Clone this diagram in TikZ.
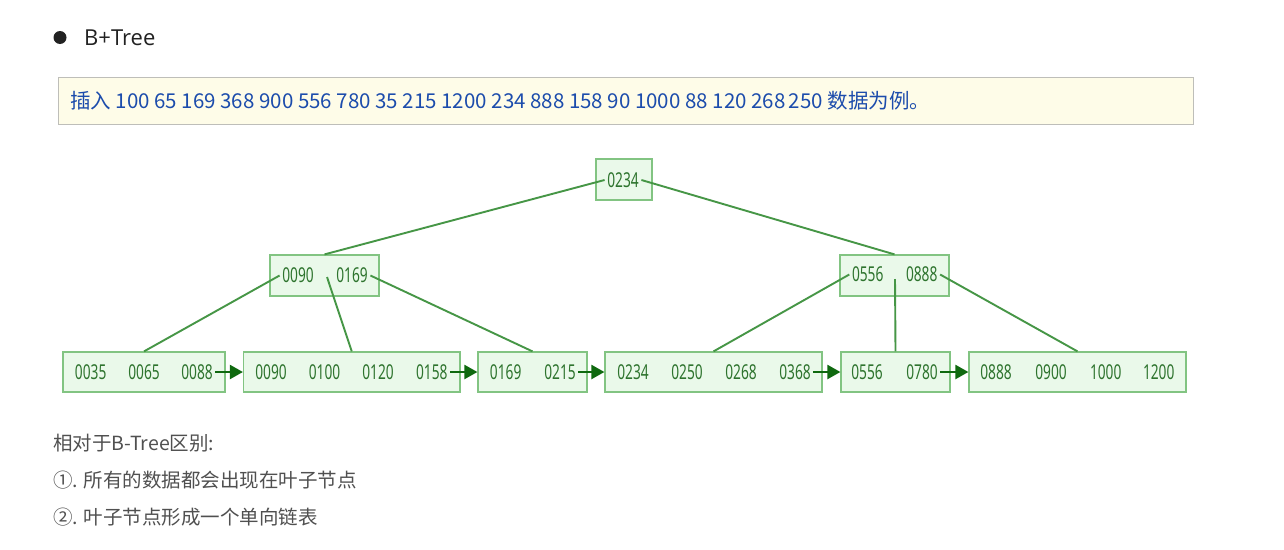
\documentclass[tikz,border=0pt]{standalone}
\usepackage{fontspec}
\setmainfont{Noto Sans CJK SC}
\newfontfamily\titlefont{Open Sans}
\newfontfamily\cjkfont{Noto Sans CJK SC}
\newfontfamily\numfont[FakeStretch=0.67]{Noto Sans}
\usetikzlibrary{arrows.meta}
\definecolor{boxc}{RGB}{130,196,130}
\definecolor{boxfill}{RGB}{234,249,234}
\definecolor{numc}{RGB}{46,116,46}
\definecolor{linec}{RGB}{70,150,70}
\definecolor{arrc}{RGB}{15,105,15}
\definecolor{notefill}{RGB}{254,252,232}
\definecolor{notedraw}{RGB}{190,190,185}
\definecolor{notetext}{RGB}{28,76,172}
\definecolor{titlec}{RGB}{34,34,34}
\definecolor{graytext}{RGB}{80,80,80}
\begin{document}
\begin{tikzpicture}[x=1pt,y=-1pt,
  box/.style={draw=boxc, fill=boxfill, line width=1.2pt, inner sep=0pt},
  num/.style={font=\numfont\fontsize{20.5}{20.5}\selectfont, text=numc, inner sep=2.5pt},
  link/.style={draw=linec, line width=1.9pt},
  nextarrow/.style={draw=arrc, line width=2.2pt, -{Triangle[length=13pt,width=14pt]}},
  remark/.style={anchor=west, inner sep=0pt, font=\cjkfont\fontsize{19.5}{19.5}\selectfont, text=graytext}]
\useasboundingbox (0,0) rectangle (1284,549);
\fill[white] (0,0) rectangle (1284,549);

% heading
\node[circle, fill=titlec, minimum size=13pt, inner sep=0pt] (bullet) at (60,37.5) {};
\node[anchor=west, inner sep=0pt, font=\titlefont\fontsize{22}{22}\selectfont, text=titlec] (title) at (84,38) {B+Tree};

% note box
\node[draw=notedraw, fill=notefill, line width=1pt, minimum width=1135pt, minimum height=47pt, anchor=north west, inner sep=0pt] (note) at (58,77) {};
\node[anchor=west, inner sep=0pt, font=\cjkfont\fontsize{20.5}{20.5}\selectfont, text=notetext] (notetext) at (70,101) {插入 100 65 169 368 900 556 780 35 215 1200 234 888 158 90 1000 88 120 268\,250 数据为例。};

% boxes
\node[box, minimum width=56pt, minimum height=41pt] (R) at (624,179.5) {};
\node[box, minimum width=109pt, minimum height=41pt] (LI) at (324.5,275.5) {};
\node[box, minimum width=109pt, minimum height=41pt] (RI) at (894.5,275.5) {};
\node[box, minimum width=162pt, minimum height=40pt] (L1) at (144,372) {};
\node[box, minimum width=216.5pt, minimum height=40pt] (L2) at (351.75,372) {};
\node[box, minimum width=109pt, minimum height=40pt] (L3) at (532.5,372) {};
\node[box, minimum width=217pt, minimum height=40pt] (L4) at (713.5,372) {};
\node[box, minimum width=109pt, minimum height=40pt] (L5) at (895.5,372) {};
\node[box, minimum width=217pt, minimum height=40pt] (L6) at (1077.5,372) {};

% texts
\node[num] (r) at (623,180) {0234};
\node[num] (p1) at (298,275.5) {0090};
\node[num] (p2) at (352,275.5) {0169};
\node[num] (q1) at (867.7,274.5) {0556};
\node[num] (q2) at (921.7,274.5) {0888};
\node[num] (a1) at (90.7,372) {0035};
\node[num] (a2) at (144,372) {0065};
\node[num] (a3) at (197,372) {0088};
\node[num] (b1) at (271,372) {0090};
\node[num] (b2) at (324.6,372) {0100};
\node[num] (b3) at (378,372) {0120};
\node[num] (b4) at (431.8,372) {0158};
\node[num] (c1) at (505.7,372) {0169};
\node[num] (c2) at (560,372) {0215};
\node[num] (d1) at (633,372) {0234};
\node[num] (d2) at (687,372) {0250};
\node[num] (d3) at (741,372) {0268};
\node[num] (d4) at (795,372) {0368};
\node[num] (e1) at (867,372) {0556};
\node[num] (e2) at (922,372) {0780};
\node[num] (f1) at (996,372) {0888};
\node[num] (f2) at (1051,372) {0900};
\node[num] (f3) at (1105.7,372) {1000};
\node[num] (f4) at (1158.7,372) {1200};

% tree links
\coordinate (lim) at (327,277);
\coordinate (rim) at (895,279);
\draw[link] (r.west) -- (LI.north);
\draw[link] (r.east) -- (RI.north);
\draw[link] (p1.west) -- (L1.north);
\draw[link] (lim) -- (L2.north);
\draw[link] (p2.east) -- (L3.north);
\draw[link] (q1.west) -- (L4.north);
\draw[link] (rim) -- (L5.north);
\draw[link] (q2.east) -- (L6.north);

% leaf chain
\draw[nextarrow] (a3.east) -- (L2.west);
\draw[nextarrow] (b4.east) -- (L3.west);
\draw[nextarrow] (c2.east) -- (L4.west);
\draw[nextarrow] (d4.east) -- (L5.west);
\draw[nextarrow] (e2.east) -- (L6.west);

% remarks
\node[remark] (m1) at (53,443) {相对于B-Tree区别:};
\node[remark] (m2) at (53,480) {①. 所有的数据都会出现在叶子节点};
\node[remark] (m3) at (53,517) {②. 叶子节点形成一个单向链表};
\end{tikzpicture}
\end{document}
